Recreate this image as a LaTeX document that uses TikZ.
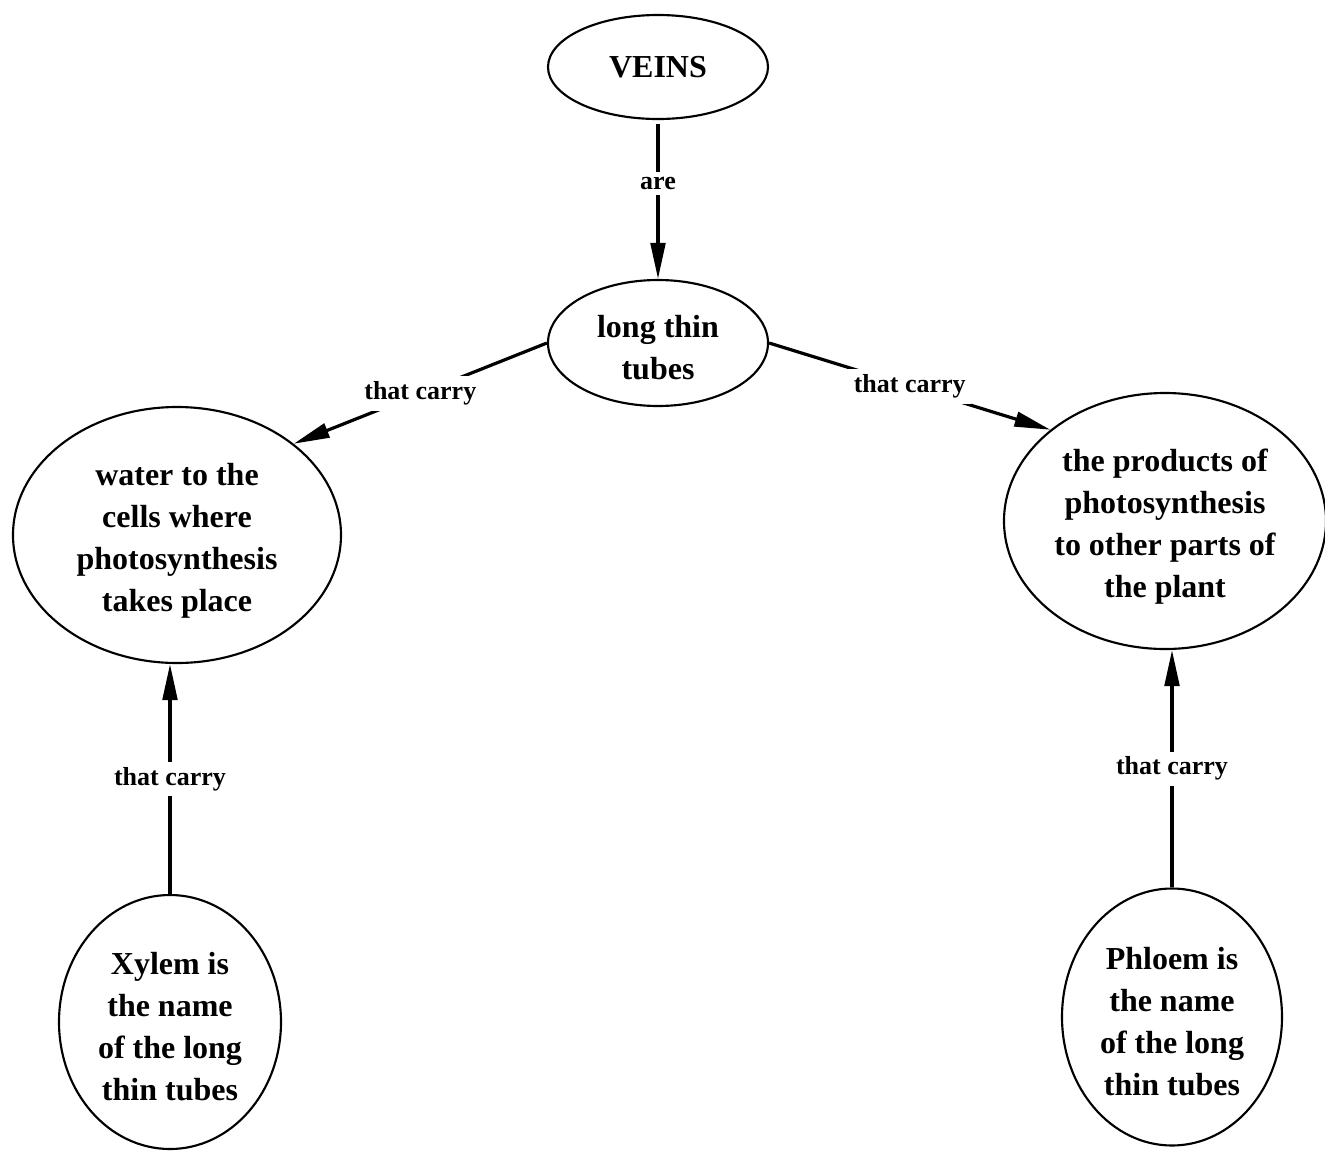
\documentclass[tikz,border=0pt]{standalone}
\usepackage{fontspec}
\setmainfont{Liberation Serif}
\usetikzlibrary{shapes.geometric,arrows.meta}
% invisible strut that lowers a multi-line text block inside its ellipse
\newcommand{\firstlinestrut}[1]{\rule{0pt}{#1}}
\begin{document}
\begin{tikzpicture}[x=0.75pt,y=-0.75pt,
  concept/.style={ellipse, draw, line width=1.6pt, inner sep=0pt, align=center,
    font=\bfseries\fontsize{24}{31.5}\selectfont},
  link/.style={line width=2.4pt, -{Triangle[length=27pt,width=11pt]}},
  lbl/.style={fill=white, inner sep=4pt, font=\bfseries\fontsize{19.5}{22}\selectfont}]
\useasboundingbox (0,0) rectangle (1325,1150);

% concepts
\node[concept, minimum width=165pt, minimum height=78pt] (veins) at (658,67) {VEINS};
\node[concept, minimum width=165pt, minimum height=94.5pt] (tubes) at (658,343)
  {\firstlinestrut{0.95em}long thin\\tubes};
\node[concept, minimum width=246pt, minimum height=192pt] (water) at (177,535)
  {\firstlinestrut{1.05em}water to the\\cells where\\photosynthesis\\takes place};
\node[concept, minimum width=241.5pt, minimum height=192pt] (products) at (1165,521)
  {\firstlinestrut{1.05em}the products of\\photosynthesis\\to other parts of\\the plant};
\node[concept, minimum width=166.5pt, minimum height=190.5pt] (xylem) at (170,1022)
  {\firstlinestrut{1.0em}Xylem is\\the name\\of the long\\thin tubes};
\node[concept, minimum width=165pt, minimum height=192.75pt] (phloem) at (1172,1017)
  {\firstlinestrut{1.0em}Phloem is\\the name\\of the long\\thin tubes};

% links
\draw[link, shorten <=3pt] (veins.south) -- node[lbl, pos=0.4] {are} (tubes.north);
\draw[link] (tubes.west) -- node[lbl] {that carry} (water.north east);
\draw[link] (tubes.east) -- node[lbl] {that carry} (products.north west);
\draw[link] (xylem.north) -- node[lbl] {that carry} (xylem.north |- water.south);
\draw[link] (phloem.north) -- node[lbl] {that carry} (phloem.north |- products.south);
\end{tikzpicture}
\end{document}
